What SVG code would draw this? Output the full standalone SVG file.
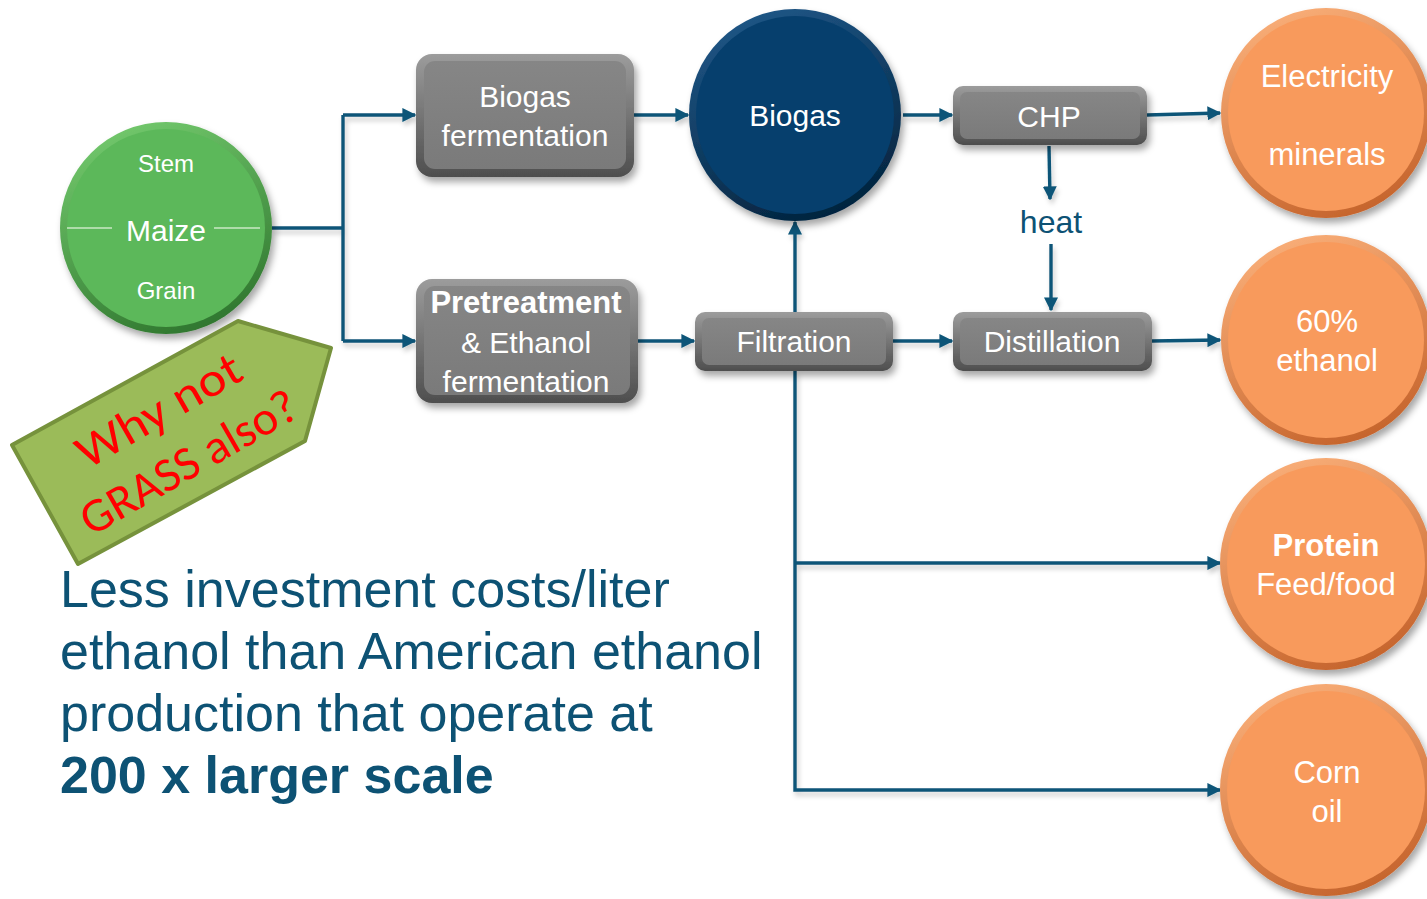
<svg xmlns="http://www.w3.org/2000/svg" width="1427" height="899" viewBox="0 0 1427 899">
<style>
.lbl{font-family:"Liberation Sans",Arial,sans-serif;fill:#ffffff;text-anchor:middle}
.conn{fill:none;stroke:#0d5578;stroke-width:3.4}
.body{font-family:"Liberation Sans",Arial,sans-serif;font-size:52px;fill:#0d5274}
</style>
<defs>
<filter id="sh" x="-20%" y="-20%" width="150%" height="150%">
<feDropShadow dx="3" dy="5" stdDeviation="3.5" flood-color="#000" flood-opacity="0.35"/>
</filter>
<filter id="lsh" x="-5%" y="-50%" width="110%" height="200%">
<feDropShadow dx="2" dy="4" stdDeviation="2.5" flood-color="#000" flood-opacity="0.2"/>
</filter>
<linearGradient id="rimGray" x1="0" y1="0" x2="0" y2="1"><stop offset="0" stop-color="#9c9c9c"/><stop offset="1" stop-color="#4e4e4e"/></linearGradient>
<linearGradient id="inGray" x1="0" y1="0" x2="0" y2="1"><stop offset="0" stop-color="#868686"/><stop offset="1" stop-color="#7a7a7a"/></linearGradient>
<linearGradient id="rimGreen" x1="0.3" y1="0" x2="0.7" y2="1"><stop offset="0" stop-color="#72c86c"/><stop offset="1" stop-color="#2e742d"/></linearGradient>
<linearGradient id="rimBlue" x1="0.3" y1="0" x2="0.7" y2="1"><stop offset="0" stop-color="#1f5686"/><stop offset="1" stop-color="#02223c"/></linearGradient>
<linearGradient id="rimOrange" x1="0.3" y1="0" x2="0.7" y2="1"><stop offset="0" stop-color="#f9ae78"/><stop offset="1" stop-color="#c4622a"/></linearGradient>
<marker id="ah" viewBox="0 0 10 10" refX="9" refY="5" markerWidth="14" markerHeight="14" markerUnits="userSpaceOnUse" orient="auto">
<path d="M0,0 L10,5 L0,10 z" fill="#0d5578"/>
</marker>
</defs>
<rect width="1427" height="899" fill="#ffffff"/>

<g id="connectors" filter="url(#lsh)">
<path class="conn" d="M272,228 H343"/>
<path class="conn" d="M343,115 V341"/>
<path class="conn" d="M343,115 H415" marker-end="url(#ah)"/>
<path class="conn" d="M343,341 H415" marker-end="url(#ah)"/>
<path class="conn" d="M634,115 H688" marker-end="url(#ah)"/>
<path class="conn" d="M638,341 H694" marker-end="url(#ah)"/>
<path class="conn" d="M795,312 V222" marker-end="url(#ah)"/>
<path class="conn" d="M893,341 H952" marker-end="url(#ah)"/>
<path class="conn" d="M903,115 H952" marker-end="url(#ah)"/>
<path class="conn" d="M1049,146 L1050,199" marker-end="url(#ah)"/>
<path class="conn" d="M1051,244 V310" marker-end="url(#ah)"/>
<path class="conn" d="M1147,115 L1220,113" marker-end="url(#ah)"/>
<path class="conn" d="M1152,341 L1220,340" marker-end="url(#ah)"/>
<path class="conn" d="M795,371 V790 H1220" marker-end="url(#ah)"/>
<path class="conn" d="M795,563 H1220" marker-end="url(#ah)"/>
</g>

<g id="maize">
<circle cx="166" cy="228" r="106" fill="url(#rimGreen)" filter="url(#sh)"/>
<circle cx="166" cy="228" r="99" fill="#5cb85a"/>
<path d="M67,228 H112 M214,228 H260" stroke="#c9e8c4" stroke-width="1.5"/>
<text class="lbl" x="166" y="172" font-size="24">Stem</text>
<text class="lbl" x="166" y="241" font-size="30">Maize</text>
<text class="lbl" x="166" y="299" font-size="24">Grain</text>
</g>

<g id="grass-tag">
<polygon points="238,321 331,348 305,441 78,564 12,445" fill="#9bbb59" stroke="#76923c" stroke-width="4" stroke-linejoin="round"/>
<g transform="translate(174,437) rotate(-30)">
<text x="0" y="-15" font-family="Carlito,'Liberation Sans',Arial,sans-serif" font-size="48" fill="#ff0000" text-anchor="middle" textLength="183" lengthAdjust="spacingAndGlyphs">Why not</text>
<text x="0" y="45" font-family="Carlito,'Liberation Sans',Arial,sans-serif" font-size="48" fill="#ff0000" text-anchor="middle" textLength="243" lengthAdjust="spacingAndGlyphs">GRASS also?</text>
</g>
</g>

<g id="biogas-fermentation">
<rect x="416" y="54" width="218" height="123" rx="16" fill="url(#rimGray)" filter="url(#sh)"/>
<rect x="424" y="61" width="202" height="108" rx="11" fill="url(#inGray)"/>
<text class="lbl" x="525" y="107" font-size="30">Biogas</text>
<text class="lbl" x="525" y="146" font-size="30">fermentation</text>
</g>

<g id="pretreatment">
<rect x="416" y="279" width="222" height="124" rx="16" fill="url(#rimGray)" filter="url(#sh)"/>
<rect x="424" y="286" width="206" height="109" rx="11" fill="url(#inGray)"/>
<text class="lbl" x="526" y="313" font-size="31" font-weight="bold">Pretreatment</text>
<text class="lbl" x="526" y="353" font-size="30">&amp; Ethanol</text>
<text class="lbl" x="526" y="392" font-size="30">fermentation</text>
</g>

<g id="biogas">
<circle cx="795" cy="115" r="106" fill="url(#rimBlue)" filter="url(#sh)"/>
<circle cx="795" cy="115" r="99" fill="#063f6d"/>
<text class="lbl" x="795" y="126" font-size="30">Biogas</text>
</g>

<g id="filtration">
<rect x="695" y="312" width="198" height="59" rx="10" fill="url(#rimGray)" filter="url(#sh)"/>
<rect x="702" y="318" width="184" height="47" rx="7" fill="url(#inGray)"/>
<text class="lbl" x="794" y="352" font-size="30">Filtration</text>
</g>

<g id="chp">
<rect x="953" y="86" width="194" height="59" rx="10" fill="url(#rimGray)" filter="url(#sh)"/>
<rect x="960" y="92" width="180" height="47" rx="7" fill="url(#inGray)"/>
<text class="lbl" x="1049" y="127" font-size="30">CHP</text>
</g>

<g id="heat">
<text x="1051" y="233" font-family="'Liberation Sans',Arial,sans-serif" font-size="32" fill="#0d5274" text-anchor="middle">heat</text>
</g>

<g id="distillation">
<rect x="953" y="312" width="199" height="59" rx="10" fill="url(#rimGray)" filter="url(#sh)"/>
<rect x="960" y="318" width="185" height="47" rx="7" fill="url(#inGray)"/>
<text class="lbl" x="1052" y="352" font-size="30">Distillation</text>
</g>

<g id="electricity">
<circle cx="1326" cy="113" r="105" fill="url(#rimOrange)" filter="url(#sh)"/>
<circle cx="1326" cy="113" r="98" fill="#f89a5c"/>
<text class="lbl" x="1327" y="87" font-size="31">Electricity</text>
<text class="lbl" x="1327" y="165" font-size="31">minerals</text>
</g>

<g id="ethanol">
<circle cx="1326" cy="340" r="105" fill="url(#rimOrange)" filter="url(#sh)"/>
<circle cx="1326" cy="340" r="98" fill="#f89a5c"/>
<text class="lbl" x="1327" y="332" font-size="31">60%</text>
<text class="lbl" x="1327" y="371" font-size="31">ethanol</text>
</g>

<g id="protein">
<circle cx="1326" cy="564" r="106" fill="url(#rimOrange)" filter="url(#sh)"/>
<circle cx="1326" cy="564" r="99" fill="#f89a5c"/>
<text class="lbl" x="1326" y="556" font-size="31" font-weight="bold">Protein</text>
<text class="lbl" x="1326" y="595" font-size="31">Feed/food</text>
</g>

<g id="corn-oil">
<circle cx="1326" cy="790" r="106" fill="url(#rimOrange)" filter="url(#sh)"/>
<circle cx="1326" cy="790" r="99" fill="#f89a5c"/>
<text class="lbl" x="1327" y="783" font-size="31">Corn</text>
<text class="lbl" x="1327" y="822" font-size="31">oil</text>
</g>

<g id="note">
<text class="body" x="60" y="607">Less investment costs/liter</text>
<text class="body" x="60" y="669">ethanol than American ethanol</text>
<text class="body" x="60" y="731">production that operate at</text>
<text class="body" x="60" y="793" font-weight="bold" fill="#07456a">200 x larger scale</text>
</g>
</svg>
